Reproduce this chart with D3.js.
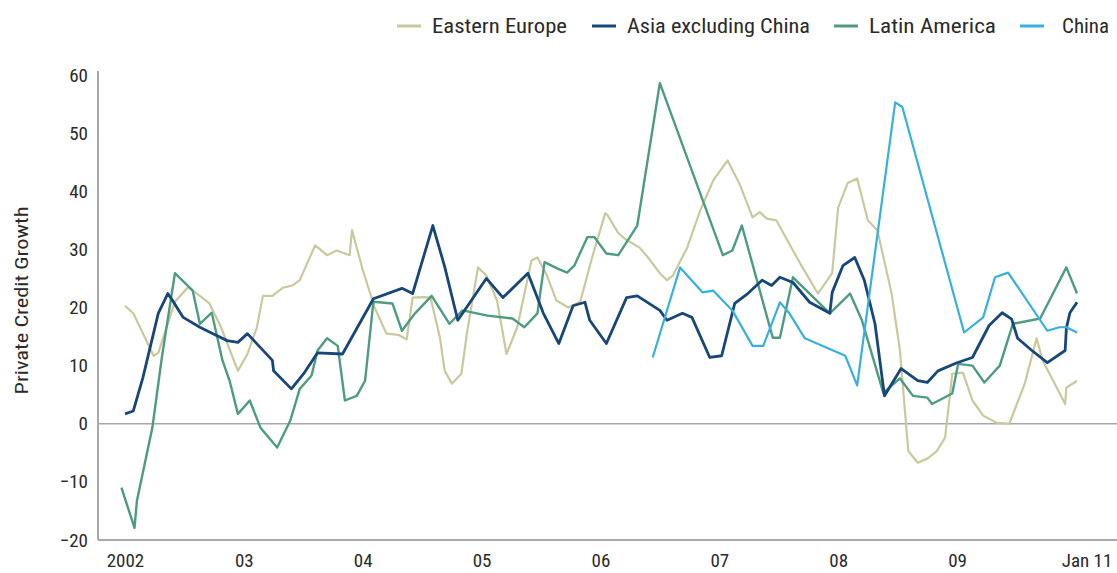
<!DOCTYPE html>
<html>
<head>
<meta charset="utf-8">
<script src="https://cdn.jsdelivr.net/npm/d3@7"></script>
<style>
  html, body { margin: 0; padding: 0; background: #fff; }
  svg text { font-family: "Liberation Sans Narrow", "Roboto Condensed", Roboto, "Open Sans", sans-serif; fill: #2a2a2a; }
</style>
</head>
<body>
<svg id="chart" width="1117" height="573"></svg>
<script>
// ---- data (decimal year, % private credit growth) ----
const seriesNames = ["Eastern Europe", "Asia excluding China", "Latin America", "China"];

const easternEurope = [
  [2002.00,20.3],[2002.07,19],[2002.24,11.7],[2002.28,12.2],[2002.42,21],[2002.53,23.5],[2002.63,22],[2002.71,20.7],
  [2002.80,17],[2002.95,9.1],[2003.03,12],[2003.11,16.6],[2003.16,22],[2003.24,22],[2003.33,23.4],[2003.41,23.8],
  [2003.47,24.7],[2003.60,30.7],[2003.70,29],[2003.78,29.8],[2003.89,29],[2003.91,33.3],[2004.00,26.5],[2004.10,20],
  [2004.20,15.5],[2004.30,15.3],[2004.37,14.5],[2004.42,21.7],[2004.52,21.8],[2004.57,21.7],[2004.65,14.8],[2004.69,9.1],
  [2004.75,6.9],[2004.83,8.6],[2004.88,16],[2004.97,26.9],[2005.04,25.5],[2005.13,21.2],[2005.21,12],[2005.30,16.6],
  [2005.42,28.1],[2005.47,28.6],[2005.55,25.5],[2005.63,21.2],[2005.73,20],[2005.83,21],[2005.93,28.6],[2006.04,36.2],
  [2006.06,35.9],[2006.15,32.8],[2006.22,31.6],[2006.33,30.3],[2006.40,28.6],[2006.50,25.9],[2006.56,24.7],[2006.61,25.5],
  [2006.73,30.3],[2006.84,36.7],[2006.95,41.9],[2007.07,45.3],[2007.17,41.3],[2007.28,35.5],[2007.34,36.4],[2007.40,35.3],
  [2007.48,35],[2007.62,29.8],[2007.68,27.6],[2007.83,22.4],[2007.95,25.9],[2008.00,37.2],[2008.08,41.4],[2008.16,42.2],
  [2008.25,35],[2008.33,33.3],[2008.45,22.4],[2008.52,12.6],[2008.59,-4.7],[2008.67,-6.7],[2008.75,-6],[2008.83,-4.7],
  [2008.90,-2.4],[2008.96,8.6],[2009.05,8.8],[2009.13,4],[2009.22,1.4],[2009.33,0.2],[2009.44,0],[2009.57,6.9],
  [2009.67,14.7],[2009.72,10.9],[2009.84,6.2],[2009.91,3.4],[2009.92,6.2],[2010.01,7.4]
];

const asiaExChina = [
  [2002.00,1.7],[2002.07,2.2],[2002.15,7.9],[2002.28,19],[2002.36,22.4],[2002.40,21.2],[2002.49,18.3],[2002.63,16.6],
  [2002.74,15.5],[2002.86,14.3],[2002.95,14],[2003.03,15.5],[2003.14,13.1],[2003.24,10.9],[2003.25,9.1],[2003.40,6],
  [2003.51,8.8],[2003.62,12.2],[2003.83,12],[2004.09,21.5],[2004.33,23.3],[2004.42,22.4],[2004.59,34.1],[2004.69,27],
  [2004.80,17.8],[2005.04,25],[2005.18,21.7],[2005.39,25.9],[2005.52,19],[2005.65,13.8],[2005.77,20.3],[2005.87,20.9],
  [2005.91,17.8],[2006.05,13.8],[2006.22,21.7],[2006.31,22],[2006.50,19.5],[2006.56,17.8],[2006.69,19],[2006.77,18.3],
  [2006.92,11.4],[2007.02,11.7],[2007.13,20.7],[2007.24,22.4],[2007.36,24.7],[2007.44,23.8],[2007.51,25.2],[2007.62,24.3],
  [2007.76,20.9],[2007.93,19],[2007.95,22.6],[2008.04,27.2],[2008.14,28.6],[2008.22,24.7],[2008.31,17.2],[2008.39,4.8],
  [2008.53,9.5],[2008.67,7.4],[2008.75,7.1],[2008.84,9.1],[2009.00,10.5],[2009.13,11.4],[2009.27,16.9],[2009.38,19.1],
  [2009.46,18],[2009.51,14.7],[2009.63,12.6],[2009.76,10.5],[2009.91,12.6],[2009.92,16.4],[2009.95,19.1],[2010.01,20.9]
];

const latinAmerica = [
  [2001.97,-11],[2002.08,-17.9],[2002.10,-13.3],[2002.23,-0.7],[2002.31,11.4],[2002.42,25.9],[2002.57,22.9],[2002.63,17.2],
  [2002.73,19.1],[2002.82,10.9],[2002.88,7.4],[2002.95,1.7],[2003.05,4],[2003.14,-0.7],[2003.28,-4.1],[2003.39,0.5],
  [2003.47,6],[2003.57,8.3],[2003.62,12.6],[2003.70,14.7],[2003.79,13.4],[2003.85,4],[2003.95,4.8],[2004.02,7.4],
  [2004.09,21],[2004.25,20.7],[2004.33,16],[2004.44,19],[2004.58,22],[2004.73,17.2],[2004.84,19.5],[2005.05,18.6],
  [2005.26,18.1],[2005.36,16.6],[2005.47,19],[2005.53,27.8],[2005.64,26.7],[2005.72,26],[2005.78,27.2],[2005.89,32.1],
  [2005.95,32.1],[2006.05,29.3],[2006.15,29],[2006.31,34.1],[2006.50,58.6],[2007.03,29],[2007.11,29.8],[2007.19,34.1],
  [2007.45,14.8],[2007.51,14.8],[2007.62,25.2],[2007.76,22.4],[2007.93,19],[2008.10,22.4],[2008.20,17.8],[2008.38,5.3],
  [2008.52,7.8],[2008.63,4.8],[2008.75,4.5],[2008.79,3.4],[2008.96,5.2],[2009.01,10.3],[2009.13,10],[2009.23,7.1],
  [2009.36,10],[2009.47,17.2],[2009.70,18.1],[2009.92,26.9],[2010.01,22.4]
];

const china = [
  [2006.44,11.4],[2006.67,26.9],[2006.86,22.6],[2006.95,22.9],[2007.11,19.5],[2007.28,13.4],[2007.37,13.4],[2007.51,20.9],
  [2007.59,19],[2007.72,14.7],[2008.06,11.7],[2008.16,6.6],[2008.48,55.3],[2008.54,54.5],[2009.06,15.7],[2009.22,18.3],
  [2009.32,25.2],[2009.43,26],[2009.76,16],[2009.86,16.6],[2009.92,16.6],[2010.01,15.7]
];

const xTickValues = [2002, 2003, 2004, 2005, 2006, 2007, 2008, 2009, 2010.09];
const xTickLabels = ["2002", "03", "04", "05", "06", "07", "08", "09", "Jan 11"];
const yTickValues = [-20, -10, 0, 10, 20, 30, 40, 50, 60];
const yAxisTitle = "Private Credit Growth";

// ---- layout ----
const colors = {
  "Eastern Europe": "#c9c99d",
  "Asia excluding China": "#17467a",
  "Latin America": "#4e9c80",
  "China": "#36b0e0"
};
const widths = {
  "Eastern Europe": 2.2,
  "Asia excluding China": 2.8,
  "Latin America": 2.4,
  "China": 2.2
};

const svg = d3.select("#chart");
const x = d3.scaleLinear().domain([2002, 2009]).range([125, 957]);
const y = d3.scaleLinear().domain([-20, 60]).range([540, 75]);
const plotLeft = 98, plotRight = 1117;

// zero line
svg.append("line")
  .attr("x1", plotLeft).attr("x2", plotRight)
  .attr("y1", y(0)).attr("y2", y(0))
  .attr("stroke", "#a8a8a8").attr("stroke-width", 1.5);

// y axis
const yAxis = d3.axisLeft(y).tickValues(yTickValues).tickSize(0).tickPadding(10)
  .tickFormat(d => d < 0 ? "\u2212" + Math.abs(d) : d);
const yg = svg.append("g").attr("transform", `translate(${plotLeft},0)`).call(yAxis);
yg.select(".domain").remove();
yg.selectAll("text").attr("font-size", 19).style("fill", "#2a2a2a");
svg.append("line")
  .attr("x1", plotLeft).attr("x2", plotLeft)
  .attr("y1", y(60) - 4).attr("y2", y(-20))
  .attr("stroke", "#a8a8a8").attr("stroke-width", 2);

// x axis
const xAxis = d3.axisBottom(x).tickValues(xTickValues).tickSize(0).tickPadding(14)
  .tickFormat((d, i) => xTickLabels[i]);
const xg = svg.append("g").attr("transform", `translate(0,${y(-20)})`).call(xAxis);
xg.select(".domain").remove();
xg.selectAll("text").attr("font-size", 19).style("fill", "#2a2a2a");
svg.append("line")
  .attr("x1", plotLeft).attr("x2", plotRight)
  .attr("y1", y(-20)).attr("y2", y(-20))
  .attr("stroke", "#a8a8a8").attr("stroke-width", 2);

// y title
svg.append("text")
  .attr("transform", `translate(28,${(y(60) + y(-20)) / 2 - 7}) rotate(-90)`)
  .attr("text-anchor", "middle")
  .attr("font-size", 18)
  .attr("textLength", 188)
  .attr("lengthAdjust", "spacingAndGlyphs")
  .text(yAxisTitle);

// lines
const line = d3.line().x(d => x(d[0])).y(d => y(d[1]));
const drawOrder = [
  ["Eastern Europe", easternEurope],
  ["Latin America", latinAmerica],
  ["Asia excluding China", asiaExChina],
  ["China", china]
];
svg.append("g").selectAll("path")
  .data(drawOrder)
  .join("path")
  .attr("d", d => line(d[1]))
  .attr("fill", "none")
  .attr("stroke", d => colors[d[0]])
  .attr("stroke-width", d => widths[d[0]])
  .attr("stroke-linejoin", "round");

// legend
const legendX = [397, 592, 834, 1020];
const legendTextW = [135, 183, 127, 47];
const lg = svg.append("g");
seriesNames.forEach((name, i) => {
  const g = lg.append("g").attr("transform", `translate(${legendX[i]},26)`);
  g.append("line").attr("x1", 0).attr("x2", 24).attr("y1", 0).attr("y2", 0)
    .attr("stroke", colors[name]).attr("stroke-width", 3);
  g.append("text").attr("x", i === 3 ? 42 : 35).attr("y", 7).attr("font-size", 20)
    .attr("textLength", legendTextW[i]).attr("lengthAdjust", "spacingAndGlyphs")
    .text(name);
});
</script>
</body>
</html>
